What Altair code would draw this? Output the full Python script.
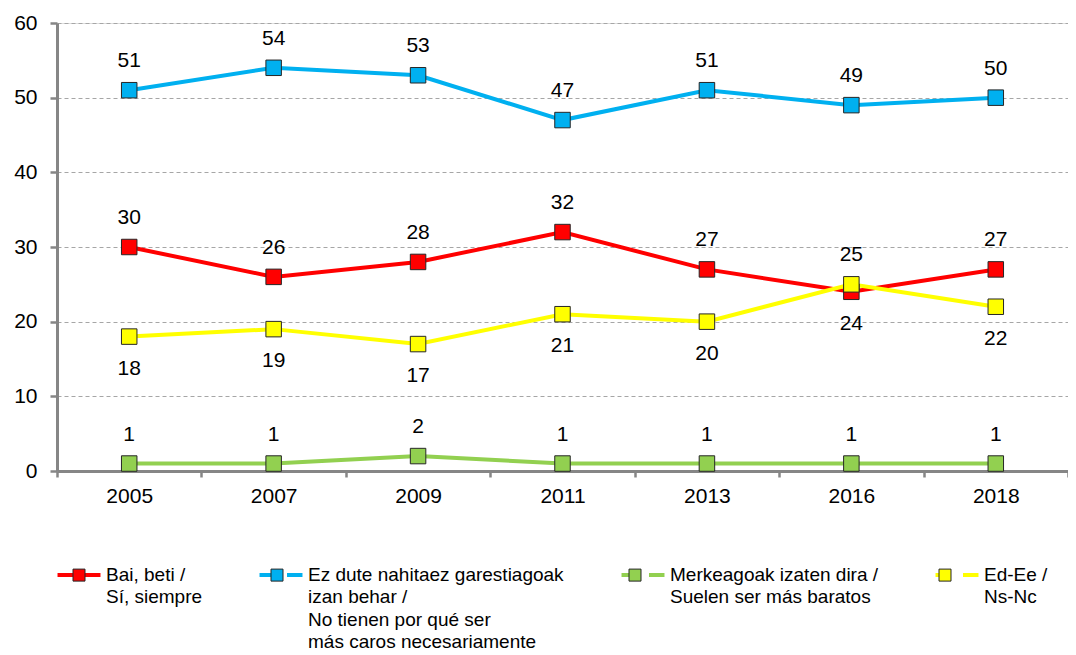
import altair as alt
import pandas as pd

years = ["2005", "2007", "2009", "2011", "2013", "2016", "2018"]
series_names = [
    "Bai, beti /|Sí, siempre| | ",
    "Ez dute nahitaez garestiagoak|izan behar /|No tienen por qué ser|más caros necesariamente",
    "Merkeagoak izaten dira /|Suelen ser más baratos| | ",
    "Ed-Ee /|Ns-Nc| | ",
]
series_colors = ["#FF0000", "#00B0F0", "#92D050", "#FFFF00"]
bai = [30, 26, 28, 32, 27, 24, 27]
ez = [51, 54, 53, 47, 51, 49, 50]
merke = [1, 1, 2, 1, 1, 1, 1]
ed = [18, 19, 17, 21, 20, 25, 22]
bai_pos = ["up", "up", "up", "up", "up", "down", "up"]
ez_pos = ["up"] * 7
merke_pos = ["up"] * 7
ed_pos = ["down", "down", "down", "down", "down", "up", "down"]

rows = []
for name, vals, poss in zip(series_names, [bai, ez, merke, ed], [bai_pos, ez_pos, merke_pos, ed_pos]):
    for y, v, p in zip(years, vals, poss):
        rows.append({"year": y, "value": v, "series": name, "series_marker": name, "pos": p})
df = pd.DataFrame(rows)

FONT = "Liberation Sans"
x_enc = alt.X("year:N", sort=years, title=None,
              scale=alt.Scale(paddingInner=0, paddingOuter=0),
              axis=alt.Axis(labelAngle=0, tickBand="extent", tickSize=6, tickWidth=2.5,
                            tickColor="#868686", domainColor="#868686", domainWidth=3,
                            labelFontSize=21, labelFont=FONT, labelColor="#000000",
                            labelPadding=8, grid=False))
y_enc = alt.Y("value:Q", title=None,
              scale=alt.Scale(domain=[0, 60], nice=False),
              axis=alt.Axis(values=[0, 10, 20, 30, 40, 50, 60], tickSize=7, tickWidth=2.5,
                            tickColor="#868686", domainColor="#868686", domainWidth=3,
                            labelFontSize=21, labelFont=FONT, labelColor="#000000",
                            labelPadding=13, grid=True, gridColor="#A6A6A6",
                            gridDash=[4, 3], gridWidth=1))

common_legend = dict(orient="none", legendX=12.5, legendY=533, direction="horizontal",
                     columns=4, columnPadding=49, title=None, padding=0,
                     labelFontSize=19, labelFont=FONT, labelColor="#000000",
                     labelExpr="split(datum.label, '|')", labelBaseline="top",
                     labelOffset=17.5, labelLimit=400, symbolSize=144, symbolOffset=0)

line = alt.Chart(df).mark_line(strokeWidth=4).encode(
    x=x_enc, y=y_enc,
    color=alt.Color("series:N", sort=series_names,
                    scale=alt.Scale(domain=series_names, range=series_colors),
                    legend=alt.Legend(symbolType="M-1,0.6M1,2.6M-3.58,1.6H-1M1,1.6H3.58",
                                      symbolStrokeWidth=4, **common_legend)),
)
points = alt.Chart(df).mark_point(shape="square", filled=True, size=240, opacity=1,
                                  stroke="#262626", strokeWidth=1).encode(
    x=x_enc, y=y_enc,
    fill=alt.Fill("series_marker:N", sort=series_names,
                  scale=alt.Scale(range=series_colors),
                  legend=alt.Legend(symbolType="M-3.83,1.6M3.83,1.6M-1,0.6H1V2.6H-1Z",
                                    symbolStrokeColor="#262626", symbolStrokeWidth=1,
                                    labelOpacity=0, **common_legend)),
)
text_up = alt.Chart(df).transform_filter(alt.datum.pos == "up").mark_text(
    dy=-29, fontSize=21, font=FONT, color="#000000", baseline="middle").encode(
    x=alt.X("year:N", sort=years), y="value:Q", text="value:Q")
text_down = alt.Chart(df).transform_filter(alt.datum.pos == "down").mark_text(
    dy=32, fontSize=21, font=FONT, color="#000000", baseline="middle").encode(
    x=alt.X("year:N", sort=years), y="value:Q", text="value:Q")

chart = alt.layer(line, points, text_up, text_down).properties(
    width=1011, height=448,
    autosize=alt.AutoSizeParams(type="none"),
    padding={"left": 49, "top": 15, "right": 0, "bottom": 180},
).configure_view(strokeWidth=0).configure(style={"guide-label": {"lineHeight": 22.5}})

chart.save("out.html", embed_options={"renderer": "svg", "actions": False})
